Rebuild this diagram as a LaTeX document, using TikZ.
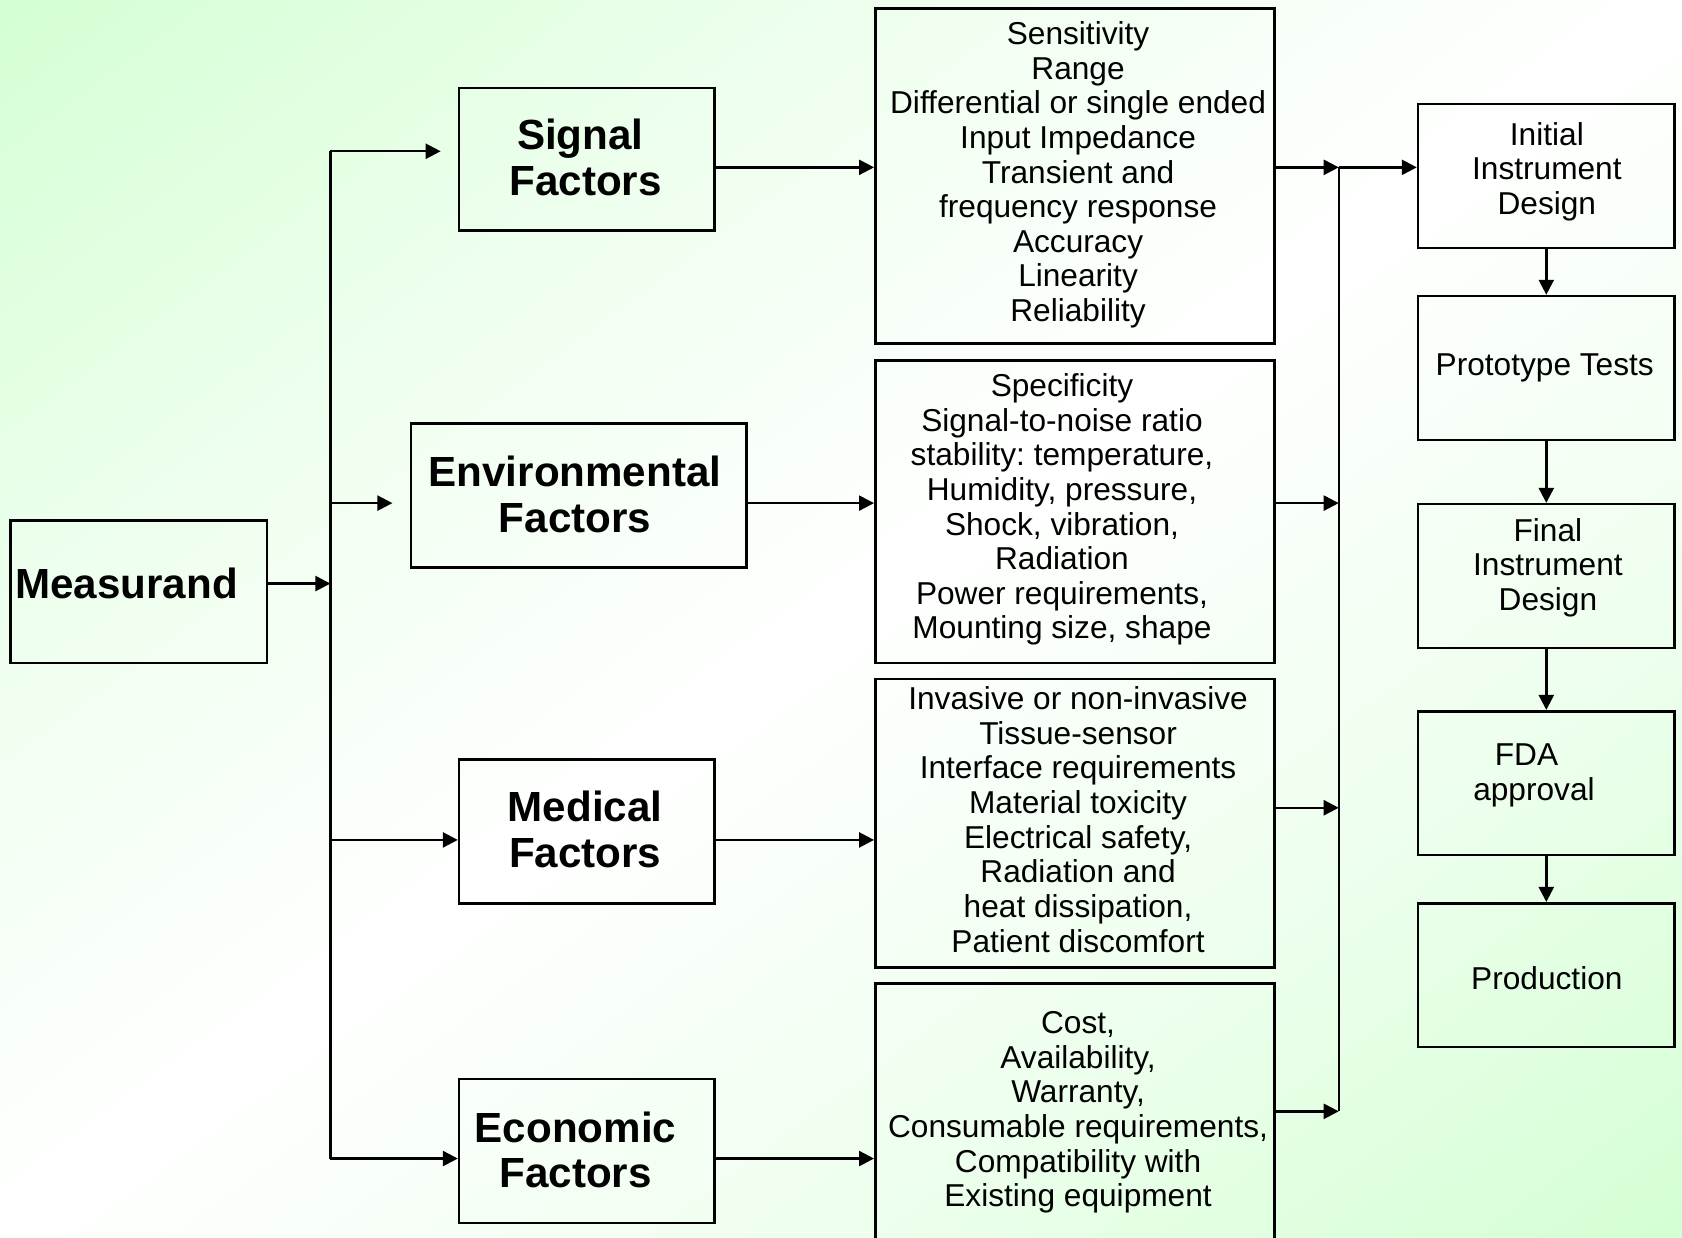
\documentclass[tikz,border=0pt]{standalone}
\usepackage{fontspec}
\setmainfont{Liberation Sans}
\usetikzlibrary{arrows.meta}
\definecolor{bggreen}{RGB}{211,255,211}
\pgfdeclareverticalshading{bgshade}{100bp}{color(0bp)=(bggreen); color(25bp)=(bggreen); color(37.5bp)=(bggreen!40!white); color(50bp)=(white); color(62.5bp)=(bggreen!40!white); color(75bp)=(bggreen); color(100bp)=(bggreen)}
\frenchspacing
\begin{document}
\begin{tikzpicture}[x=1pt,y=-1pt,
 box/.style={draw=black, line width=2.4pt, inner sep=0pt},
 txt/.style={align=center, font=\fontsize{29.5}{32.3}\selectfont, inner sep=0pt},
 bigtxt/.style={align=center, font=\bfseries\fontsize{39.3}{42.5}\selectfont, inner sep=0pt},
 conn/.style={line width=2.2pt},
 arr/.style={conn, -{Triangle[length=14pt,width=14pt]}},
]
\useasboundingbox (0,0) rectangle (1568,1154);
\clip (0,0) rectangle (1568,1154);
\begin{scope}[transform canvas={shift={(784,577)}, xscale=15.68, yscale=11.54, rotate=45}]
\shade[shading=bgshade] (-70.72pt,-70.72pt) rectangle (70.72pt,70.72pt);
\end{scope}

% left boxes
\node[box, minimum width=239pt, minimum height=133pt] (meas) at (129.5,551.5) {};
\node[bigtxt, anchor=west] (meastxt) at (14,544) {Measurand};

\node[box, minimum width=238pt, minimum height=133pt] (sig) at (547,148.5) {};
\node[bigtxt] (sigtxt) at (546,147) {Signal\rule{10pt}{0pt}\\Factors};
\node[box, minimum width=313pt, minimum height=134pt] (env) at (539.5,462) {};
\node[bigtxt] (envtxt) at (536,461) {Environmental\\Factors};
\node[box, minimum width=238pt, minimum height=134pt] (med) at (547,775) {};
\node[bigtxt] (medtxt) at (545.5,773) {Medical\\Factors};
\node[box, minimum width=238pt, minimum height=134pt] (eco) at (547,1073) {};
\node[bigtxt] (ecotxt) at (536.5,1072) {Economic\\Factors};

% middle boxes
\node[box, minimum width=372pt, minimum height=312pt] (m1) at (1002,164) {};
\node[txt] (m1txt) at (1005,163) {Sensitivity\\Range\\Differential or single ended\\Input Impedance\\Transient and\\frequency response\\Accuracy\\Linearity\\Reliability};
\node[box, minimum width=372pt, minimum height=282pt] (m2) at (1002,477) {};
\node[txt] (m2txt) at (990,475) {Specificity\\Signal-to-noise ratio\\stability: temperature,\\Humidity, pressure,\\Shock, vibration,\\Radiation\\Power requirements,\\Mounting size, shape};
\node[box, minimum width=372pt, minimum height=269pt] (m3) at (1002,767.5) {};
\node[txt] (m3txt) at (1005,764) {Invasive or non-invasive\\Tissue-sensor\\Interface requirements\\Material toxicity\\Electrical safety,\\Radiation and\\heat dissipation,\\Patient discomfort};
\node[box, minimum width=372pt, minimum height=253pt] (m4) at (1002,1043.5) {};
\node[txt] (m4txt) at (1005,1037) {Cost,\\Availability,\\Warranty,\\Consumable requirements,\\Compatibility with\\Existing equipment};

% right boxes
\node[box, minimum width=239pt, minimum height=134pt] (init) at (1441.5,164) {};
\node[txt] (inittxt) at (1442,160) {Initial\\Instrument\\Design};
\node[box, minimum width=239pt, minimum height=134pt] (proto) at (1441.5,343) {};
\node[txt] (prototxt) at (1440,343) {Prototype Tests};
\node[box, minimum width=239pt, minimum height=134pt] (final) at (1441.5,537) {};
\node[txt] (finaltxt) at (1443,529) {Final\\Instrument\\Design};
\node[box, minimum width=239pt, minimum height=134pt] (fda) at (1441.5,730) {};
\node[txt] (fdatxt) at (1430,723) {FDA\rule{14pt}{0pt}\\approval};
\node[box, minimum width=239pt, minimum height=134pt] (prod) at (1441.5,909) {};
\node[txt] (prodtxt) at (1442,912) {Production};

% trunk coordinates
\coordinate (t0) at (308,544);
\coordinate (t1) at (308,141);
\coordinate (t2) at (308,469);
\coordinate (t3) at (308,783);
\coordinate (t4) at (308,1080);
% collector coordinates
\coordinate (c1) at (1248,156);
\coordinate (c2) at (1248,469);
\coordinate (c3) at (1248,753);
\coordinate (c4) at (1248,1036);

\draw[arr] (meas.east |- t0) -- (t0);
\draw[conn] (t1) -- (t4);
\draw[arr, shorten >=16pt] (t1) -- (sig.west |- t1);
\draw[arr, shorten >=16pt] (t2) -- (env.west |- t2);
\draw[arr] (t3) -- (med.west |- t3);
\draw[arr] (t4) -- (eco.west |- t4);

\draw[arr] (sig.east |- c1) -- (m1.west |- c1);
\draw[arr] (env.east |- c2) -- (m2.west |- c2);
\draw[arr] (med.east |- t3) -- (m3.west |- t3);
\draw[arr] (eco.east |- t4) -- (m4.west |- t4);

\draw[arr] (m1.east |- c1) -- (c1);
\draw[arr] (m2.east |- c2) -- (c2);
\draw[arr] (m3.east |- c3) -- (c3);
\draw[arr] (m4.east |- c4) -- (c4);
\draw[conn] (c1) -- (c4);
\draw[arr] (c1) -- (init.west |- c1);

\draw[arr] (init.south) -- (proto.north);
\draw[arr] (proto.south) -- (final.north);
\draw[arr] (final.south) -- (fda.north);
\draw[arr] (fda.south) -- (prod.north);
\end{tikzpicture}
\end{document}
